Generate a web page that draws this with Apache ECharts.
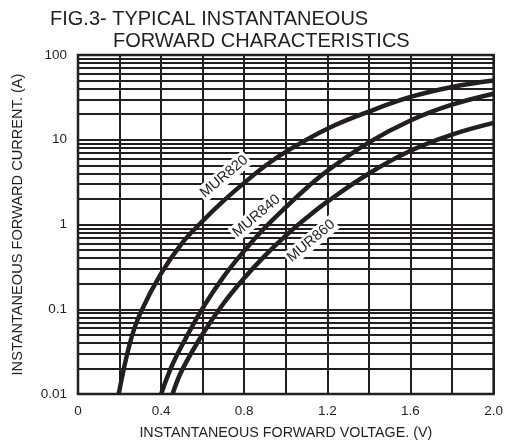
<!DOCTYPE html>
<html>
<head>
<meta charset="utf-8">
<script src="https://cdn.jsdelivr.net/npm/echarts@6/dist/echarts.min.js"></script>
<style>
html,body{margin:0;padding:0;background:#fff;}
#c{width:506px;height:445px;}
</style>
</head>
<body>
<div id="c"></div>
<script>
// ---- data ----
const voltageTicks = [0, 0.4, 0.8, 1.2, 1.6, 2.0];
const currentTicks = [0.01, 0.1, 1, 10, 100];

const mur820V = [0.196, 0.25, 0.3, 0.4, 0.5, 0.6, 0.7, 0.8, 0.9, 1.0, 1.2, 1.4, 1.6, 1.8, 2.0];
const mur820I = [0.01, 0.040, 0.090, 0.265, 0.60, 1.1, 1.9, 3.1, 4.9, 7.2, 13.5, 21.5, 32, 42, 50];

const mur840V = [0.40, 0.45, 0.5, 0.6, 0.7, 0.8, 0.9, 1.0, 1.1, 1.2, 1.4, 1.6, 1.8, 2.0];
const mur840I = [0.01, 0.021, 0.0373, 0.103, 0.241, 0.49, 0.92, 1.6, 2.7, 4.3, 9.3, 16.9, 25.9, 34.9];

const mur860V = [0.455, 0.5, 0.6, 0.7, 0.8, 0.9, 1.0, 1.1, 1.2, 1.4, 1.6, 1.8, 2.0];
const mur860I = [0.01, 0.019, 0.051, 0.117, 0.234, 0.43, 0.74, 1.2, 1.86, 4.0, 7.4, 11.5, 15.8];

const curveNames = ['MUR820', 'MUR840', 'MUR860'];
const labelAt = [[0.703, 3.68], [0.859, 1.26], [1.122, 0.64]];

// minor log grid lines (2..9 in each decade)
const minorGrid = [];
[0.01, 0.1, 1, 10].forEach(d => { for (let k = 2; k <= 9; k++) minorGrid.push(+(d * k).toPrecision(3)); });

const ink = '#231f20';
const FONT = '"Liberation Sans", Arial, sans-serif';
const pairs = (xs, ys) => xs.map((x, i) => [x, ys[i]]);

function curve(name, xs, ys) {
  return {
    name: name, type: 'line', smooth: 0.4, symbol: 'none', z: 5,
    lineStyle: { color: ink, width: 4.5 },
    data: pairs(xs, ys)
  };
}

const titles = [
  { id: 't1', type: 'text', left: 50, top: 9, style: { text: 'FIG.3- TYPICAL INSTANTANEOUS', fill: ink, font: '20px ' + FONT } },
  { id: 't2', type: 'text', left: 113, top: 31, style: { text: 'FORWARD CHARACTERISTICS', fill: ink, font: '20px ' + FONT } }
];

const chart = echarts.init(document.getElementById('c'), null, { renderer: 'canvas' });
chart.setOption({
  animation: false,
  backgroundColor: '#fff',
  textStyle: { fontFamily: FONT },
  graphic: titles,
  grid: { left: 78, right: 10, top: 55, bottom: 47, show: true, borderColor: ink, borderWidth: 2.5, backgroundColor: 'transparent' },
  xAxis: {
    type: 'value', min: 0, max: 2.0, interval: 0.2,
    name: 'INSTANTANEOUS FORWARD VOLTAGE. (V)', nameLocation: 'middle', nameGap: 32,
    nameTextStyle: { color: ink, fontSize: 14.3 },
    axisLine: { show: false }, axisTick: { show: false },
    axisLabel: {
      color: ink, fontSize: 13.5, margin: 10,
      formatter: v => { const r = Math.round(v * 10) / 10; return voltageTicks.some(t => Math.abs(t - r) < 1e-6) ? (r === 0 ? '0' : r.toFixed(1)) : ''; }
    },
    splitLine: { show: true, lineStyle: { color: ink, width: 2 } }
  },
  yAxis: {
    type: 'log', logBase: 10, min: currentTicks[0], max: currentTicks[currentTicks.length - 1],
    name: 'INSTANTANEOUS FORWARD CURRENT. (A)', nameLocation: 'middle', nameGap: 53,
    nameTextStyle: { color: ink, fontSize: 14.6 },
    axisLine: { show: false }, axisTick: { show: false },
    axisLabel: {
      color: ink, fontSize: 13.5, margin: 11,
      formatter: v => { const m = currentTicks.find(t => Math.abs(Math.log10(t) - Math.log10(v)) < 1e-6); return m === undefined ? '' : String(m); }
    },
    splitLine: { show: true, lineStyle: { color: ink, width: 2 } }
  },
  series: [
    {
      type: 'line', data: [], silent: true,
      markLine: {
        silent: true, symbol: 'none', animation: false,
        lineStyle: { color: ink, width: 2, type: 'solid' },
        label: { show: false },
        data: minorGrid.map(v => ({ yAxis: v }))
      }
    },
    curve(curveNames[0], mur820V, mur820I),
    curve(curveNames[1], mur840V, mur840I),
    curve(curveNames[2], mur860V, mur860I)
  ]
});

// curve name tags, placed through the chart's own coordinate conversion
const tags = curveNames.map((n, i) => {
  const p = chart.convertToPixel({ gridIndex: 0 }, labelAt[i]);
  return {
    id: 'lab' + i, type: 'text', x: p[0], y: p[1], rotation: 40 * Math.PI / 180, z: 100,
    style: {
      text: n, fill: ink, font: '14.5px ' + FONT, align: 'center', verticalAlign: 'middle',
      backgroundColor: '#fff', padding: [1, 2]
    }
  };
});
chart.setOption({ graphic: titles.concat(tags) });
</script>
</body>
</html>
